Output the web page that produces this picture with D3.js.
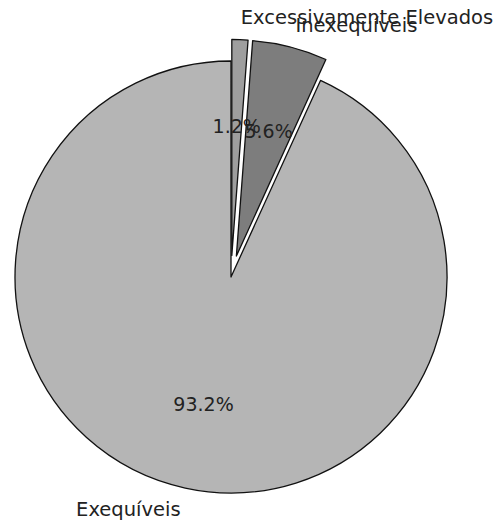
<!DOCTYPE html>
<html>
<head>
<meta charset="utf-8">
<script src="https://cdn.jsdelivr.net/npm/d3@7"></script>
<style>
  body { margin: 0; background: #fff; }
  text { font-family: "DejaVu Sans", sans-serif; }
</style>
</head>
<body>
<div id="chart"></div>
<script>
// Data
const categories = ["Exequíveis", "Inexequíveis", "Excessivamente Elevados"];
const values = [93.2, 5.6, 1.2];

// Styling
const colors = {
  "Exequíveis": "#b5b5b5",
  "Inexequíveis": "#7d7d7d",
  "Excessivamente Elevados": "#9e9e9e"
};
const explode = { "Inexequíveis": 0.1, "Excessivamente Elevados": 0.1 };

const svgWidth = 498;
const svgHeight = 522;
const cx = 231, cy = 277;
const radius = 216;

const svg = d3.select("#chart")
  .append("svg")
  .attr("width", svgWidth)
  .attr("height", svgHeight);

const data = categories.map((c, i) => ({ name: c, value: values[i] }));

// clockwise from top, drawn backwards so the small slices sit just right of 12 o'clock
const pie = d3.pie()
  .sort(null)
  .value(d => d.value)
  .startAngle(2 * Math.PI)
  .endAngle(0);

const arcs = pie(data);

const arc = d3.arc().innerRadius(0).outerRadius(radius);

const g = svg.append("g").attr("transform", `translate(${cx},${cy})`);

function offset(d) {
  const e = explode[d.data.name] || 0;
  const a = (d.startAngle + d.endAngle) / 2;
  return [Math.sin(a) * e * radius, -Math.cos(a) * e * radius];
}

function along(d, k) {
  const [ox, oy] = offset(d);
  const a = (d.startAngle + d.endAngle) / 2;
  return [ox + Math.sin(a) * k * radius, oy - Math.cos(a) * k * radius];
}

// Wedges
g.selectAll("path.slice")
  .data(arcs)
  .join("path")
  .attr("class", "slice")
  .attr("transform", d => `translate(${offset(d)})`)
  .attr("d", arc)
  .attr("fill", d => colors[d.data.name])
  .attr("stroke", "#111")
  .attr("stroke-width", 1.3)
  .attr("stroke-linejoin", "round");

// Percent labels
g.selectAll("text.pct")
  .data(arcs)
  .join("text")
  .attr("class", "pct")
  .attr("x", d => along(d, 0.6)[0])
  .attr("y", d => along(d, 0.6)[1])
  .attr("text-anchor", "middle")
  .attr("dominant-baseline", "central")
  .attr("font-size", 19)
  .attr("fill", "#222")
  .text(d => d.data.value.toFixed(1) + "%");

// Category labels
g.selectAll("text.lbl")
  .data(arcs)
  .join("text")
  .attr("class", "lbl")
  .attr("x", d => along(d, 1.1)[0])
  .attr("y", d => along(d, 1.1)[1])
  .attr("text-anchor", d => along(d, 1.1)[0] > 0 ? "start" : "end")
  .attr("dominant-baseline", "central")
  .attr("font-size", 19.5)
  .attr("fill", "#222")
  .text(d => d.data.name);
</script>
</body>
</html>
